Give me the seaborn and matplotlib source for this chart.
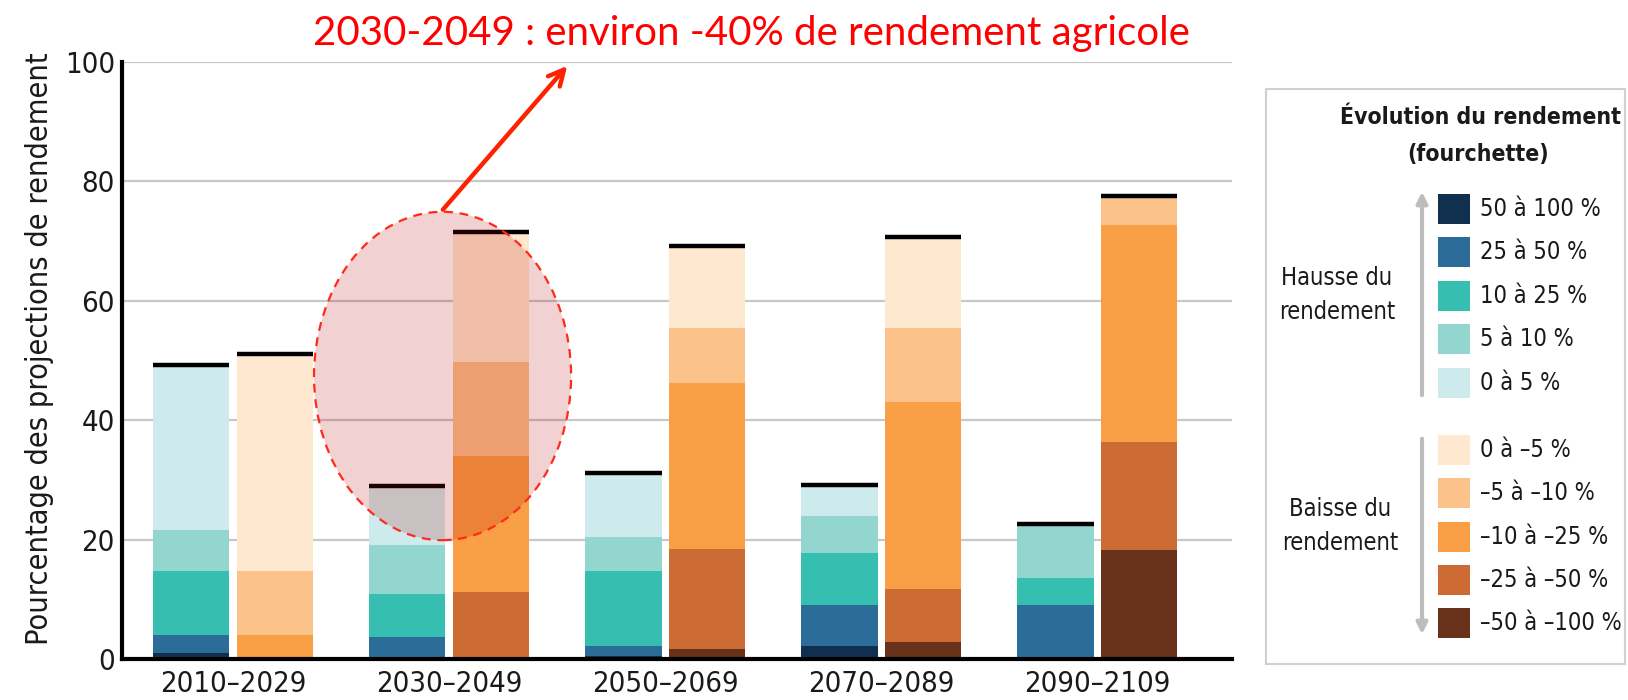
import numpy as np
import pandas as pd
import matplotlib
matplotlib.use("Agg")
import matplotlib.pyplot as plt
import matplotlib.patches as mpatches
import seaborn as sns

################################################
#  Données
################################################
periodes = ["2010–2029", "2030–2049", "2050–2069", "2070–2089", "2090–2109"]

# hausse du rendement (du bas vers le haut de la barre)
hausse_50_100 = [1.0, 0.0, 0.5, 2.1, 0.0]
hausse_25_50 = [3.0, 3.6, 1.6, 6.9, 9.0]
hausse_10_25 = [10.8, 7.3, 12.6, 8.8, 4.6]
hausse_5_10 = [6.8, 8.2, 5.8, 6.2, 8.7]
hausse_0_5 = [27.3, 9.5, 10.3, 4.9, 0.0]

# baisse du rendement (du bas vers le haut de la barre)
baisse_50_100 = [0.0, 0.0, 1.7, 2.8, 18.3]
baisse_25_50 = [0.0, 11.3, 16.8, 8.9, 18.0]
baisse_10_25 = [4.0, 22.7, 27.7, 31.4, 36.4]
baisse_5_10 = [10.8, 15.7, 9.2, 12.3, 4.6]
baisse_0_5 = [36.0, 21.6, 13.5, 14.9, 0.0]

hausse_labels = ["50 à 100 %", "25 à 50 %", "10 à 25 %", "5 à 10 %", "0 à 5 %"]
baisse_labels = ["0 à –5 %", "–5 à –10 %", "–10 à –25 %", "–25 à –50 %", "–50 à –100 %"]
hausse_couleurs = ["#11304f", "#2c6c99", "#36bfb1", "#93d5cf", "#cdebec"]
baisse_couleurs = ["#fee8cf", "#fbc38a", "#f99f45", "#cc6b33", "#673219"]

titre = "2030-2049 : environ -40% de rendement agricole"
ylabel = "Pourcentage des projections de rendement"

################################################
#  Figure
################################################
sns.set_theme(style="white")
plt.rcParams["font.family"] = ["DejaVu Sans"]
plt.rcParams["font.stretch"] = "condensed"
texte = "#1a1a1a"

fig = plt.figure(figsize=(16.28, 7), dpi=100)
ax = fig.add_axes([0.0748, 0.0586, 0.682, 0.8529])

h_cum = np.cumsum([hausse_50_100, hausse_25_50, hausse_10_25, hausse_5_10, hausse_0_5], axis=0)
b_cum = np.cumsum([baisse_50_100, baisse_25_50, baisse_10_25, baisse_5_10, baisse_0_5], axis=0)
h_cols = hausse_couleurs          # bas -> haut
b_cols = baisse_couleurs[::-1]    # bas -> haut

# empilement : on trace les cumuls, du plus haut au plus bas
tops = None
for k in range(4, -1, -1):
    df = pd.DataFrame({
        "periode": periodes * 2,
        "cum": np.r_[h_cum[k], b_cum[k]],
        "sens": ["hausse"] * 5 + ["baisse"] * 5,
    })
    n0 = len(ax.patches)
    sns.barplot(data=df, x="periode", y="cum", hue="sens", hue_order=["hausse", "baisse"],
                palette={"hausse": h_cols[k], "baisse": b_cols[k]}, width=0.77, gap=0.085,
                saturation=1, linewidth=0, errorbar=None, legend=False, ax=ax, zorder=2)
    if tops is None:
        tops = ax.patches[n0:]

# trait noir au sommet de chaque barre
for p in tops:
    x0, w, h = p.get_x(), p.get_width(), p.get_height()
    ax.plot([x0, x0 + w], [h + 0.3, h + 0.3], color="black", lw=3.2, solid_capstyle="butt", zorder=3)

ax.set_xlim(-0.515, 4.625)
ax.set_ylim(0, 100)
ax.set_yticks([0, 20, 40, 60, 80, 100])
ax.yaxis.grid(True, color="#c8c8c8", lw=1.6)
ax.set_axisbelow(True)
for s in ["top", "right"]:
    ax.spines[s].set_visible(False)
for s in ["left", "bottom"]:
    ax.spines[s].set_color("black")
    ax.spines[s].set_linewidth(3)
ax.tick_params(length=0, labelsize=21, colors=texte)
ax.tick_params(axis="y", pad=5)
ax.tick_params(axis="x", pad=8)
ax.set_xlabel("")
ax.set_ylabel(ylabel, fontsize=22, color=texte)
ax.yaxis.set_label_coords(-0.0745, 0.519)
ax.yaxis.label.set_verticalalignment("center")

# ellipse + flèche rouge
ell = mpatches.Ellipse((0.97, 47.4), 1.19, 55, facecolor=(0.71, 0.0, 0.0, 0.18),
                       edgecolor="#ff2a1a", linestyle=(0, (4, 3)), lw=1.6, zorder=5, clip_on=False)
ax.add_patch(ell)
ax.annotate("", xy=(1.556, 99.7), xytext=(0.963, 74.9), annotation_clip=False,
            arrowprops=dict(arrowstyle="->", color="#ff2200", lw=3.2, mutation_scale=28), zorder=6)

################################################
#  Légende (coordonnées en pixels de la figure)
################################################
lax = fig.add_axes([0, 0, 1, 1])
lax.set_xlim(0, 1628)
lax.set_ylim(700, 0)
lax.axis("off")

lax.text(751, 33, titre, color="#ff0000", fontsize=29, ha="center", va="center",
         family="Lato", fontstretch="normal")

lax.add_patch(mpatches.Rectangle((1266, 89), 359, 575, fill=False, edgecolor="#d0d0d0", lw=1.5))
lax.text(1480, 118, "Évolution du rendement", fontsize=16.5, fontweight="bold", ha="center", va="center", color=texte)
lax.text(1478, 155, "(fourchette)", fontsize=16.5, fontweight="bold", ha="center", va="center", color=texte)

y_haut = [209, 252, 296, 339, 383]
y_bas = [450, 493, 537, 580, 623]
for yc, lab, col in zip(y_haut + y_bas, hausse_labels + baisse_labels, hausse_couleurs + baisse_couleurs):
    lax.add_patch(mpatches.Rectangle((1438, yc - 15), 32, 30, facecolor=col, edgecolor="none"))
    lax.text(1480, yc, lab, fontsize=17, ha="left", va="center", color=texte)

lax.annotate("", xy=(1422, 189), xytext=(1422, 398),
             arrowprops=dict(arrowstyle="-|>", color="#bdbdbd", lw=3, mutation_scale=16))
lax.annotate("", xy=(1422, 637), xytext=(1422, 436),
             arrowprops=dict(arrowstyle="-|>", color="#bdbdbd", lw=3, mutation_scale=16))
lax.text(1337, 295, "Hausse du\nrendement", fontsize=17, ha="center", va="center", linespacing=1.55, color=texte)
lax.text(1340, 526, "Baisse du\nrendement", fontsize=17, ha="center", va="center", linespacing=1.55, color=texte)

fig.savefig("out.png", dpi=100)
